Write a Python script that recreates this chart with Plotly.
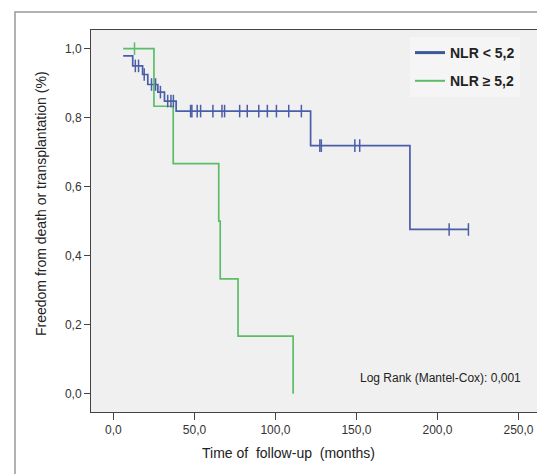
import plotly.graph_objects as go

# ---- data ----
blue_name = "NLR < 5,2"
green_name = "NLR \u2265 5,2"

blue_t = [6, 11.9, 18.0, 21.2, 27.4, 31.5, 38.7, 121.7, 183.0, 219.1]
blue_s = [0.979, 0.950, 0.925, 0.896, 0.874, 0.848, 0.819, 0.719, 0.476, 0.476]

blue_cens_t = [13.5, 15.5, 19.0, 23.5, 26.0, 29.0, 33.5, 35.5, 37.0,
               47.6, 48.4, 51.7, 53.8, 61.4, 67.0, 68.6, 77.9, 82.6, 89.7,
               95.0, 100.6, 108.2, 116.0,
               127.4, 128.3, 149.0, 152.0,
               207.2, 219.1]
blue_cens_s = [0.950, 0.950, 0.925, 0.896, 0.896, 0.874, 0.848, 0.848, 0.848,
               0.819, 0.819, 0.819, 0.819, 0.819, 0.819, 0.819, 0.819, 0.819, 0.819,
               0.819, 0.819, 0.819, 0.819,
               0.719, 0.719, 0.719, 0.719,
               0.476, 0.476]

green_t = [6, 25.0, 36.9, 65.0, 65.9, 76.9, 110.9]
green_s = [1.0, 0.833, 0.667, 0.500, 0.333, 0.167, 0.0]
green_cens_t = [13.0]
green_cens_s = [1.0]

x_ticks = [0, 50, 100, 150, 200, 250]
y_ticks = [0.0, 0.2, 0.4, 0.6, 0.8, 1.0]

BLUE = "#4a5da8"
GREEN = "#5cbd68"
FONT = "Liberation Sans, Arial, sans-serif"

fig = go.Figure()
fig.add_trace(go.Scatter(x=blue_t, y=blue_s, mode="lines", line_shape="hv",
                         line=dict(color=BLUE, width=1.7), showlegend=False))
fig.add_trace(go.Scatter(x=green_t, y=green_s, mode="lines", line_shape="hv",
                         line=dict(color=GREEN, width=1.7), showlegend=False))
fig.add_trace(go.Scatter(x=blue_cens_t, y=blue_cens_s, mode="markers",
                         marker=dict(symbol="line-ns-open", size=9, color=BLUE,
                                     line=dict(color=BLUE, width=1.5)),
                         showlegend=False))
fig.add_trace(go.Scatter(x=green_cens_t, y=green_cens_s, mode="markers",
                         marker=dict(symbol="line-ns-open", size=9, color=GREEN,
                                     line=dict(color=GREEN, width=1.5)),
                         showlegend=False))
# legend entries
fig.add_trace(go.Scatter(x=[None], y=[None], mode="lines", name=blue_name,
                         line=dict(color="#3d5896", width=3), legendgroup="a"))
fig.add_trace(go.Scatter(x=[None], y=[None], mode="lines", name=green_name,
                         line=dict(color=GREEN, width=2), legendgroup="b"))

W, H = 545, 474
L, R, T, B = 83, 12, 22, 70
pw, ph = W - L - R, H - T - B


def px(xp):
    return (xp - L) / pw


def py(yp):
    return (H - B - yp) / ph


fig.update_layout(
    width=W, height=H,
    margin=dict(l=L, r=R, t=T, b=B),
    paper_bgcolor="white",
    plot_bgcolor="#f0f0f0",
    separators=", ",
    font=dict(family=FONT, size=12, color="#333"),
    legend=dict(x=px(402), y=py(29), xanchor="left", yanchor="top",
                bgcolor="#f5f5f5",
                font=dict(size=14, color="#222", family=FONT, weight="bold"),
                tracegroupgap=7, traceorder="grouped", itemwidth=30),
    xaxis=dict(range=[-13.85, 263.9], tickvals=x_ticks, tickformat=".1f",
               showgrid=False, zeroline=False, showline=True, mirror=True,
               linecolor="#444", linewidth=1, ticks="outside", ticklen=7,
               tickcolor="#444", tickfont=dict(size=12, color="#333")),
    yaxis=dict(range=[-0.053, 1.054], tickvals=y_ticks, tickformat=".1f",
               showgrid=False, zeroline=False, showline=True, mirror=True,
               linecolor="#444", linewidth=1, ticks="outside", ticklen=6,
               tickcolor="#444", tickfont=dict(size=12, color="#333")),
    annotations=[
        dict(text="Time of\u00a0 follow-up\u00a0 (months)", x=px(280), y=py(445),
             xref="paper", yref="paper", showarrow=False, xanchor="center",
             yanchor="middle", font=dict(size=14, color="#222")),
        dict(text="Freedom from death or transplantation (%)", x=px(33), y=py(196),
             xref="paper", yref="paper", showarrow=False, xanchor="center",
             yanchor="middle", textangle=-90, font=dict(size=14, color="#222")),
        dict(text="Log Rank (Mantel-Cox): 0,001", x=px(350), y=py(370),
             xref="paper", yref="paper", showarrow=False, xanchor="left",
             yanchor="middle", font=dict(size=12, color="#222")),
    ],
    shapes=[
        dict(type="rect", xref="paper", yref="paper",
             x0=px(7), x1=px(542), y0=py(467), y1=py(4),
             line=dict(color="#999", width=1.5), fillcolor="rgba(0,0,0,0)",
             layer="below"),
    ],
)

fig.write_html("out.html")
